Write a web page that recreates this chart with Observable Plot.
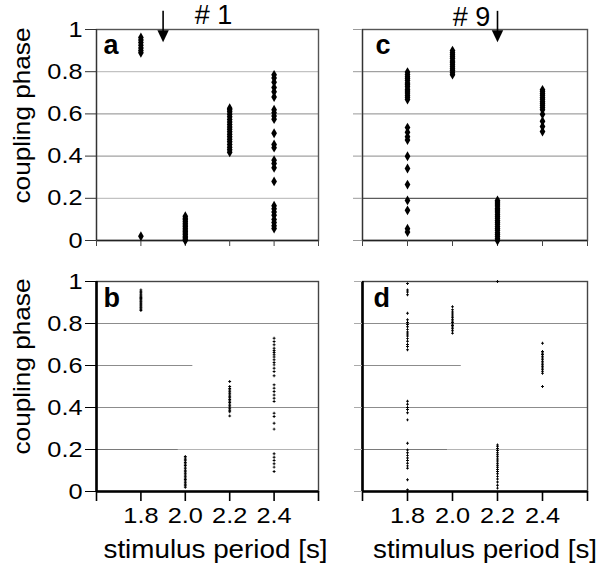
<!DOCTYPE html>
<html>
<head>
<meta charset="utf-8">
<script src="https://cdn.jsdelivr.net/npm/d3@7"></script>
<script src="https://cdn.jsdelivr.net/npm/@observablehq/plot@0.6"></script>
<style>
html, body { margin: 0; padding: 0; background: #fff; }
#chart { position: relative; width: 601px; height: 573px; overflow: hidden; background: #fff; }
#chart > svg { position: absolute; }
</style>
</head>
<body>
<div id="chart"></div>
<script>
// ---- categories / ticks ----
const periods = [1.8, 2.0, 2.2, 2.4];
const xTicks = [1.6, 1.8, 2.0, 2.2, 2.4, 2.6];
const xLabelTicks = [1.8, 2.0, 2.2, 2.4];
const yTicks = [0, 0.2, 0.4, 0.6, 0.8, 1];

// ---- panel a (#1, top) : coupling phase per stimulus period ----
const a18 = [0.02, 0.89, 0.90, 0.912, 0.925, 0.938, 0.95, 0.962];
const a20 = [0.0, 0.006, 0.013, 0.02, 0.028, 0.035, 0.043, 0.05, 0.058, 0.066, 0.074, 0.082, 0.09, 0.098, 0.106, 0.115];
const a22 = [0.418, 0.43, 0.442, 0.455, 0.468, 0.48, 0.492, 0.503, 0.515, 0.527, 0.538, 0.55, 0.562, 0.574, 0.586, 0.598, 0.61, 0.62, 0.627];
const a24 = [0.057, 0.07, 0.085, 0.1, 0.12, 0.135, 0.15, 0.165, 0.28, 0.345, 0.365, 0.38, 0.44, 0.455, 0.508, 0.575, 0.59, 0.605, 0.62, 0.68, 0.705, 0.725, 0.75, 0.77, 0.785];

// ---- panel c (#9, top) ----
const c18 = [0.04, 0.056, 0.143, 0.19, 0.265, 0.341, 0.399, 0.476, 0.492, 0.513, 0.535, 0.668, 0.679, 0.688, 0.699, 0.708, 0.717, 0.729, 0.738, 0.747, 0.758, 0.768, 0.776, 0.787, 0.798];
const c20 = [0.786, 0.795, 0.806, 0.814, 0.823, 0.833, 0.842, 0.851, 0.862, 0.871, 0.88, 0.89, 0.9];
const c22 = [0.0, 0.008, 0.019, 0.028, 0.037, 0.048, 0.057, 0.066, 0.077, 0.086, 0.095, 0.106, 0.115, 0.124, 0.135, 0.144, 0.153, 0.164, 0.173, 0.182, 0.19];
const c24 = [0.516, 0.54, 0.565, 0.598, 0.62, 0.63, 0.641, 0.65, 0.659, 0.669, 0.678, 0.688, 0.697, 0.706, 0.714];

// ---- panel b (#1, bottom) ----
const b18 = [0.862, 0.868, 0.874, 0.879, 0.885, 0.891, 0.896, 0.902, 0.907, 0.913, 0.919, 0.924, 0.93, 0.936, 0.941, 0.947, 0.953, 0.96];
const b20 = [0.02, 0.027, 0.035, 0.042, 0.05, 0.057, 0.064, 0.072, 0.079, 0.087, 0.094, 0.101, 0.109, 0.116, 0.124, 0.131, 0.138, 0.146, 0.153, 0.16, 0.167];
const b22 = [0.36, 0.38, 0.387, 0.394, 0.402, 0.409, 0.416, 0.424, 0.431, 0.438, 0.446, 0.453, 0.46, 0.468, 0.475, 0.483, 0.49, 0.5, 0.524];
const b24 = [0.095, 0.116, 0.132, 0.148, 0.163, 0.18, 0.297, 0.325, 0.357, 0.373, 0.429, 0.444, 0.46, 0.476, 0.492, 0.508, 0.551, 0.571, 0.587, 0.603, 0.614, 0.627, 0.64, 0.651, 0.662, 0.671, 0.682, 0.699, 0.714, 0.73];

// ---- panel d (#9, bottom) ----
const d18 = [0.008, 0.056, 0.111, 0.122, 0.135, 0.148, 0.16, 0.172, 0.185, 0.198, 0.23, 0.341, 0.375, 0.39, 0.40, 0.415, 0.43, 0.675, 0.69, 0.70, 0.715, 0.728, 0.74, 0.75, 0.76, 0.772, 0.785, 0.795, 0.805, 0.818, 0.849, 0.937, 0.95, 0.96, 0.99];
const d20 = [0.754, 0.765, 0.775, 0.783, 0.79, 0.797, 0.805, 0.812, 0.82, 0.828, 0.836, 0.845, 0.855, 0.865, 0.88];
const d22 = [0.016, 0.03, 0.045, 0.06, 0.072, 0.085, 0.095, 0.105, 0.115, 0.125, 0.135, 0.145, 0.155, 0.165, 0.175, 0.185, 0.195, 0.205, 0.215, 0.222, 1.0];
const d24 = [0.5, 0.563, 0.572, 0.58, 0.588, 0.596, 0.604, 0.612, 0.62, 0.628, 0.636, 0.644, 0.652, 0.66, 0.667, 0.706];

// ---- annotations ----
const arrowPeriodA = 1.9;   // arrow over panel a
const arrowPeriodC = 2.2;   // arrow over panel c
const partialGrid06 = [2.034, 2.039]; // end of the 0.6 gridline in panels b, d
const gridBreak02 = [1.969, 1.978];   // shade change of 0.2 gridline in b, d

const toRows = cols => periods.flatMap((p, i) => cols[i].map(v => ({period: p, phase: v})));
const rowsA = toRows([a18, a20, a22, a24]);
const rowsC = toRows([c18, c20, c22, c24]);
const rowsB = toRows([b18, b20, b22, b24]);
const rowsD = toRows([d18, d20, d22, d24]);

const FONT = '"Liberation Sans", Arial, Helvetica, sans-serif';
const downTriangle = {
  draw(ctx, size) {
    const r = Math.sqrt(size / Math.PI);
    ctx.moveTo(0, r);
    ctx.lineTo(-r * 0.95, -r);
    ctx.lineTo(r * 0.95, -r);
    ctx.closePath();
  }
};
const yFmt = d => (d === 0 || d === 1) ? String(d) : d.toFixed(1);

function base(o) {
  return {
    width: o.width, height: o.height,
    marginLeft: o.mL, marginRight: o.mR, marginTop: o.mT, marginBottom: o.mB,
    style: {fontFamily: FONT, fontSize: "22px", background: "transparent", color: "black", overflow: "visible"},
    x: {domain: [1.6, 2.6], label: null},
    y: {domain: [0, 1], label: null}
  };
}

function topPanel(o) {
  return Plot.plot({
    ...base(o),
    marks: [
      ...o.grid,
      Plot.frame({stroke: "#555", strokeWidth: 1.4}),
      Plot.ruleX([1.6], {stroke: "#333", strokeWidth: 1.2}),
      Plot.ruleY([0], {stroke: "#222", strokeWidth: 1.6}),
      Plot.axisX({ticks: xTicks, tickSize: 6, tickFormat: () => "", label: null, stroke: "#444"}),
      o.labels
        ? Plot.axisY({ticks: yTicks, tickSize: 11, tickPadding: 3, tickFormat: yFmt, label: null, fontSize: 22, stroke: "#333"})
        : Plot.axisY({ticks: yTicks, tickSize: 9, tickFormat: () => "", label: null, stroke: "#999"}),
      Plot.dot(o.rows, {x: "period", y: "phase", symbol: "diamond", r: 3.0, fill: "black", stroke: null}),
      Plot.ruleX([o.arrow], {x: d => d, y1: 1.086, y2: 0.97, stroke: "black", strokeWidth: 1.6}),
      Plot.dot([o.arrow], {x: d => d, y: 0.968, symbol: downTriangle, r: 6, fill: "black", stroke: null}),
      Plot.text([o.letter], {text: d => d, frameAnchor: "top-left", textAnchor: "start", lineAnchor: "bottom", dx: o.letterDx, dy: 24, fontSize: 27, fontWeight: "bold"}),
      Plot.text([o.title], {text: d => d, frameAnchor: "top", textAnchor: "middle", lineAnchor: "middle", dx: o.titleDx, dy: o.titleDy, fontSize: 27}),
      ...(o.labels ? [Plot.text(["coupling phase"], {text: d => d, frameAnchor: "left", textAnchor: "middle", lineAnchor: "middle", rotate: -90, dx: -74, dy: -19.5, fontSize: 24})] : [])
    ]
  });
}

function bottomPanel(o) {
  return Plot.plot({
    ...base(o),
    marks: [
      Plot.ruleY([0.8, 0.4], {stroke: "#8c8c8c", strokeWidth: 1}),
      Plot.ruleY([0.6], {x1: 1.6, x2: o.part06, stroke: "#8c8c8c", strokeWidth: 1}),
      Plot.ruleY([0.2], {x1: 1.6, x2: o.break02, stroke: "#7a7a7a", strokeWidth: 1}),
      Plot.ruleY([0.2], {x1: o.break02, x2: 2.6, stroke: "#b4b4b4", strokeWidth: 1}),
      Plot.frame({stroke: "#444", strokeWidth: 1.4}),
      Plot.ruleX([1.6], {stroke: "black", strokeWidth: 2.6}),
      Plot.ruleY([0], {stroke: "black", strokeWidth: 2.6}),
      Plot.axisX({ticks: xTicks, tickSize: 10, tickPadding: 6, tickFormat: d => xLabelTicks.includes(d) ? d.toFixed(1) : "", label: null, fontSize: 22, stroke: "black", strokeWidth: 1.6}),
      o.labels
        ? Plot.axisY({ticks: yTicks, tickSize: 11, tickPadding: 3, tickFormat: yFmt, label: null, fontSize: 22, stroke: "black"})
        : Plot.axisY({ticks: yTicks, tickSize: 8, tickFormat: () => "", label: null, stroke: "#aaa"}),
      Plot.dot(o.rows, {x: "period", y: "phase", symbol: "cross", r: 1.2, fill: "black", stroke: null}),
      Plot.text([o.letter], {text: d => d, frameAnchor: "top-left", textAnchor: "start", lineAnchor: "bottom", dx: o.letterDx, dy: 25, fontSize: 27, fontWeight: "bold"}),
      Plot.text(["stimulus period [s]"], {text: d => d, frameAnchor: "bottom", textAnchor: "middle", lineAnchor: "middle", dx: o.xTitleDx, dy: 58, fontSize: 25}),
      ...(o.labels ? [Plot.text(["coupling phase"], {text: d => d, frameAnchor: "left", textAnchor: "middle", lineAnchor: "middle", rotate: -90, dx: -74, dy: -20, fontSize: 24})] : [])
    ]
  });
}

const chart = document.getElementById("chart");
function place(svg, left, top) {
  svg.style.left = left + "px";
  svg.style.top = top + "px";
  chart.appendChild(svg);
  return svg;
}

const pA = place(topPanel({rows: rowsA, width: 330, height: 250, mL: 96, mR: 12, mT: 29, mB: 10, labels: true,
  grid: [Plot.ruleY([0.2, 0.8], {stroke: "#c2c2c2", strokeWidth: 1.2}), Plot.ruleY([0.4, 0.6], {stroke: "#8a8a8a", strokeWidth: 1})],
  arrow: arrowPeriodA, letter: "a", letterDx: 7, title: "# 1", titleDx: 6, titleDy: -14}), 0, 0);

const pC = place(topPanel({rows: rowsC, width: 271, height: 250, mL: 32, mR: 14, mT: 29, mB: 10, labels: false,
  grid: [Plot.ruleY([0.4, 0.6, 0.8], {stroke: "#8a8a8a", strokeWidth: 1}), Plot.ruleY([0.2], {stroke: "#333", strokeWidth: 1})],
  arrow: arrowPeriodC, letter: "c", letterDx: 13, title: "# 9", titleDx: -3.5, titleDy: -12}), 330, 0);

const pB = place(bottomPanel({rows: rowsB, width: 330, height: 323, mL: 96, mR: 12, mT: 31, mB: 82, labels: true,
  part06: partialGrid06[0], break02: gridBreak02[0], letter: "b", letterDx: 7, xTitleDx: 8}), 0, 250);

const pD = place(bottomPanel({rows: rowsD, width: 271, height: 323, mL: 32, mR: 14, mT: 31, mB: 82, labels: false,
  part06: partialGrid06[1], break02: gridBreak02[1], letter: "d", letterDx: 11, xTitleDx: 10}), 330, 250);

// widen the glyphs like the original lettering
const targets = {"stimulus period [s]": 224, "coupling phase": 176};
for (const svg of [pA, pB, pC, pD]) {
  svg.querySelectorAll("text").forEach(t => {
    const s = t.textContent;
    if (!s) return;
    let L = null;
    if (targets[s]) L = targets[s];
    else if (/^[0-9.]+$/.test(s)) L = t.getComputedTextLength() * 1.15;
    if (L) {
      t.setAttribute("textLength", L);
      t.setAttribute("lengthAdjust", "spacingAndGlyphs");
    }
  });
}
</script>
</body>
</html>
